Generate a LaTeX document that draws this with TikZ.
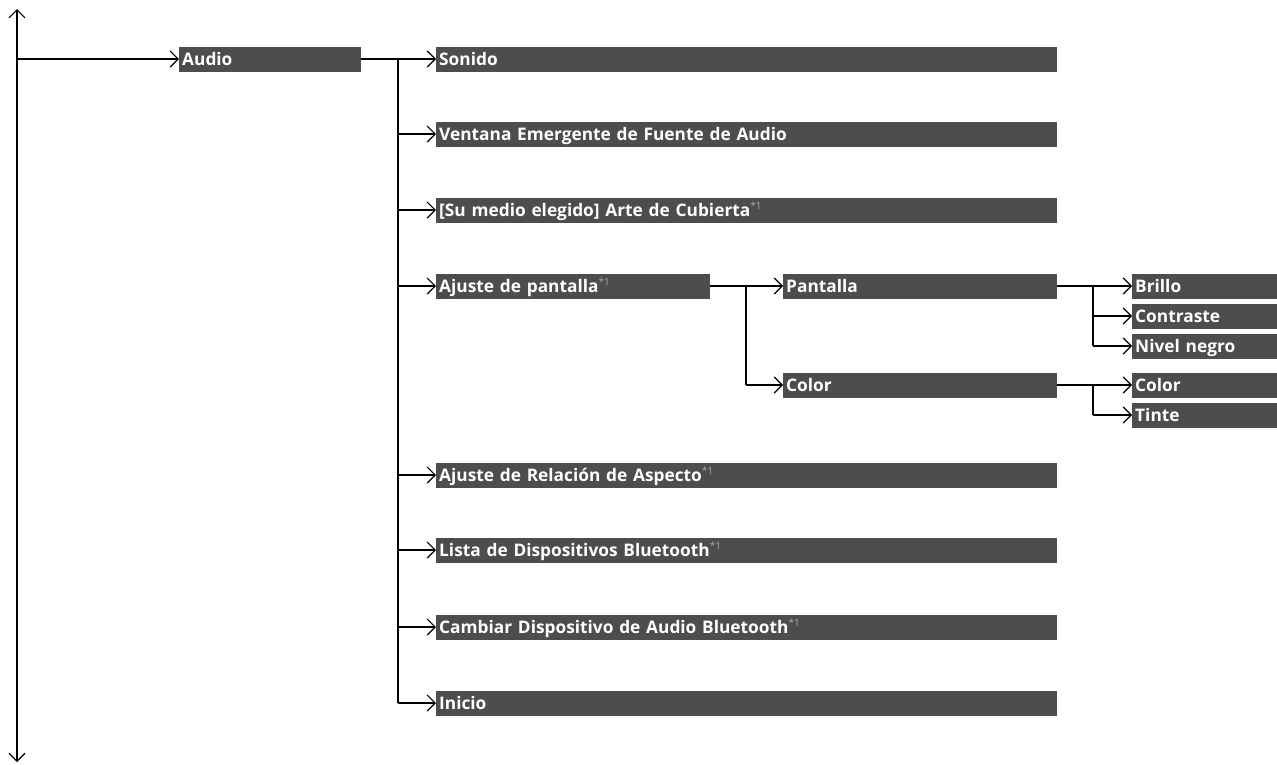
\documentclass[tikz,border=0pt]{standalone}
\usepackage{fontspec}
\setmainfont{Open Sans}
\usetikzlibrary{arrows.meta}
\definecolor{boxgray}{HTML}{4D4D4D}
\definecolor{supgray}{HTML}{AAAAAA}
\newcommand{\sone}{\raisebox{6.5pt}{\textcolor{supgray}{\mdseries\fontsize{10}{10}\selectfont *1}}}
\begin{document}
\begin{tikzpicture}[x=1pt,y=-1pt,
  menu/.style={fill=boxgray, text=white, font=\bfseries\fontsize{17.3}{19}\selectfont,
    anchor=west, inner xsep=3pt, inner ysep=0pt, minimum height=25pt,
    text height=14pt, text depth=2pt, align=left},
  wide/.style={menu, text width=615pt},
  mid/.style={menu, text width=268pt},
  small/.style={menu, text width=139pt},
  aud/.style={menu, text width=176pt},
  ln/.style={line width=1.7pt},
  arr/.style={ln, -{Straight Barb[length=8pt,width=16pt,line width=1.2pt]}},
  dbl/.style={ln, {Straight Barb[length=8pt,width=16pt,line width=1.2pt]}-{Straight Barb[length=8pt,width=16pt,line width=1.2pt]}}
]
\useasboundingbox (0,0) rectangle (1277,764);

% nodes
\node[aud]  (audio) at (179,59)  {Audio};
\node[wide] (son)   at (436,59)  {Sonido};
\node[wide] (ven)   at (436,134) {Ventana Emergente de Fuente de Audio};
\node[wide] (arte)  at (436,210) {[Su medio elegido] Arte de Cubierta\sone};
\node[mid]  (ajp)   at (436,286) {Ajuste de pantalla\sone};
\node[mid]  (pant)  at (783,286) {Pantalla};
\node[mid]  (col)   at (783,385) {Color};
\node[small] (bri)  at (1132,286) {Brillo};
\node[small] (con)  at (1132,316) {Contraste};
\node[small] (niv)  at (1132,346) {Nivel negro};
\node[small] (col3) at (1132,385) {Color};
\node[small] (tin)  at (1132,415) {Tinte};
\node[wide] (rel)   at (436,475) {Ajuste de Relación de Aspecto\sone};
\node[wide] (lis)   at (436,550) {Lista de Dispositivos Bluetooth\sone};
\node[wide] (cam)   at (436,627) {Cambiar Dispositivo de Audio Bluetooth\sone};
\node[wide] (ini)   at (436,703) {Inicio};

% coordinates
\coordinate (top) at (17,9);
\coordinate (bot) at (17,762);
\coordinate (t1) at (398,59);
\coordinate (t2) at (746,286);
\coordinate (t3) at (1093,286);
\coordinate (t4) at (1093,385);

% left axis
\draw[dbl] (top) -- (bot);
\draw[arr] (top |- audio.west) -- (audio.west);

% level 1
\draw[arr] (audio.east) -- (son.west);
\draw[ln] (t1) -- (t1 |- ini.west);
\foreach \n in {ven,arte,ajp,rel,lis,cam,ini}
  \draw[arr] (t1 |- \n.west) -- (\n.west);

% level 2
\draw[arr] (ajp.east) -- (pant.west);
\draw[ln] (t2) -- (t2 |- col.west);
\draw[arr] (t2 |- col.west) -- (col.west);

% level 3
\draw[arr] (pant.east) -- (bri.west);
\draw[ln] (t3) -- (t3 |- niv.west);
\draw[arr] (t3 |- con.west) -- (con.west);
\draw[arr] (t3 |- niv.west) -- (niv.west);

\draw[arr] (col.east) -- (col3.west);
\draw[ln] (t4) -- (t4 |- tin.west);
\draw[arr] (t4 |- tin.west) -- (tin.west);
\end{tikzpicture}
\end{document}
